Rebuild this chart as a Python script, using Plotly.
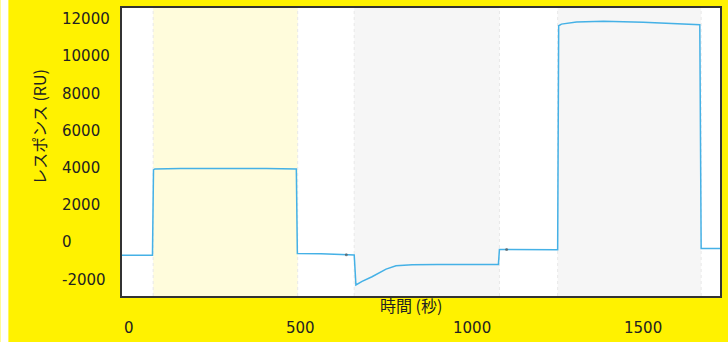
import plotly.graph_objects as go

# ---- data ----
time_s = [-21, 68, 71, 75, 150, 287, 400, 488, 491, 560, 634, 657, 662, 680, 709, 730,
          750, 779, 826, 900, 1000, 1078, 1081, 1102, 1180, 1251, 1254, 1262, 1306, 1385,
          1501, 1600, 1666, 1670, 1725]
response_ru = [-690, -690, 3900, 3950, 3980, 4000, 3980, 3950, -595, -610, -670, -680, -2290,
               -2100, -1850, -1620, -1440, -1260, -1200, -1190, -1185, -1185, -380, -380, -385,
               -390, 11650, 11740, 11856, 11894, 11840, 11780, 11712, -330, -330]
marker_t = [634, 1102]
marker_r = [-670, -380]

regions = [(70, 492, "#fffcdc"), (657, 1081, "#f6f6f6"), (1251, 1670, "#f6f6f6")]

x_ticks = [0, 500, 1000, 1500]
x_tick_labels = ["0", "500", "1000", "1500"]
y_ticks = [12000, 10000, 8000, 6000, 4000, 2000, 0, -2000]
y_tick_labels = ["12000", "10000", "8000", "6000", "4000", "2000", "0", "-2000"]

x_title = "時間 (秒)"
y_title = "レスポンス (RU)"

X_RANGE = [-21, 1725]
Y_RANGE = [-2884, 12607]

W, H = 728, 342
ML, MR, MT, MB = 122, 6, 7, 46
PW, PH = W - ML - MR, H - MT - MB

def px2paper_x(px):
    return (px - ML) / PW

def px2paper_y(py):
    return (H - MB - py) / PH

YELLOW = "#fff200"
FONT_NUM = "DejaVu Sans"
FONT_JP = "Noto Sans CJK JP"

fig = go.Figure()
fig.add_trace(go.Scatter(x=time_s, y=response_ru, mode="lines",
                         line=dict(color="#45b1e6", width=1.5), hoverinfo="skip",
                         showlegend=False))
fig.add_trace(go.Scatter(x=marker_t, y=marker_r, mode="markers",
                         marker=dict(color="#555555", size=3, opacity=0.7),
                         hoverinfo="skip", showlegend=False))

shapes = []
for x0, x1, col in regions:
    shapes.append(dict(type="rect", xref="x", yref="paper", x0=x0, x1=x1, y0=0, y1=1,
                       fillcolor=col, line=dict(width=0), layer="below"))
    for xv in (x0, x1):
        shapes.append(dict(type="line", xref="x", yref="paper", x0=xv, x1=xv, y0=0, y1=1,
                           line=dict(color="#e8e8e8", width=1, dash="dot"), layer="below"))
# white strip at left edge of page
shapes.append(dict(type="rect", xref="paper", yref="paper",
                   x0=px2paper_x(0), x1=px2paper_x(8), y0=px2paper_y(H + 2), y1=px2paper_y(-2),
                   fillcolor="white", line=dict(width=0), layer="above"))

annotations = []
for v, lab in zip(y_ticks, y_tick_labels):
    annotations.append(dict(x=px2paper_x(60), xref="paper", y=v, yref="y", text=lab,
                            showarrow=False, xanchor="left", yanchor="middle",
                            font=dict(family=FONT_NUM, size=15, color="#222222")))
for v, lab in zip(x_ticks, x_tick_labels):
    annotations.append(dict(x=v, xref="x", y=px2paper_y(328), yref="paper", text=lab,
                            showarrow=False, xanchor="center", yanchor="middle",
                            font=dict(family=FONT_NUM, size=15, color="#222222")))
annotations.append(dict(x=px2paper_x(412), xref="paper", y=px2paper_y(305), yref="paper",
                        text=x_title, showarrow=False, xanchor="center", yanchor="middle",
                        font=dict(family=FONT_JP, size=16, color="#222222")))
annotations.append(dict(x=px2paper_x(38), xref="paper", y=px2paper_y(126), yref="paper",
                        text=y_title, showarrow=False, textangle=-90,
                        xanchor="center", yanchor="middle",
                        font=dict(family=FONT_JP, size=16, color="#222222")))

fig.update_layout(
    width=W, height=H,
    margin=dict(l=ML, r=MR, t=MT, b=MB),
    paper_bgcolor=YELLOW, plot_bgcolor="white",
    shapes=shapes, annotations=annotations,
    xaxis=dict(range=X_RANGE, showgrid=False, zeroline=False, showticklabels=False,
               ticks="", showline=True, linecolor="#333333", linewidth=2, mirror=True),
    yaxis=dict(range=Y_RANGE, showgrid=False, zeroline=False, showticklabels=False,
               ticks="", showline=True, linecolor="#333333", linewidth=2, mirror=True),
)

fig.write_html("out.html")
